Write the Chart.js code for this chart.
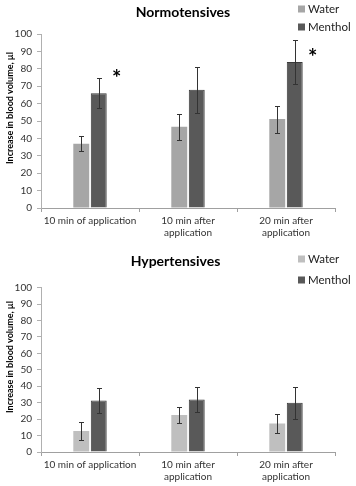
<!DOCTYPE html>
<html><head><meta charset="utf-8">
<script src="https://cdn.jsdelivr.net/npm/chart.js@4.4.0/dist/chart.umd.min.js"></script>
<style>
html,body{margin:0;padding:0;background:#fff;width:356px;height:486px;overflow:hidden;}
.w{position:absolute;left:0;width:356px;}
</style></head><body>
<div class="w" style="top:0;height:244px"><canvas id="c1" width="356" height="244"></canvas></div>
<div class="w" style="top:244px;height:242px"><canvas id="c2" width="356" height="242"></canvas></div>
<script>
const categories = ['10 min of application', ['10 min after','application'], ['20 min after','application']];
const yTicks = [0,10,20,30,40,50,60,70,80,90,100];
const normWater = [36.9, 46.7, 51.1];
const normWaterErr = [4.3, 7.4, 7.8];
const normMenthol = [66.0, 67.9, 83.9];
const normMentholErr = [8.6, 13.1, 12.6];
const normStars = [77, null, 89];
const hypWater = [12.8, 22.5, 17.4];
const hypWaterErr = [5.6, 4.6, 5.8];
const hypMenthol = [31.4, 32.0, 29.9];
const hypMentholErr = [7.8, 7.6, 9.8];
const hypStars = [null, null, null];

const FONT = 'Lato, "Open Sans", sans-serif';

function makeChart(id, title, titleX, titleY, legY, yTitleCY, water, waterErr, menthol, mentholErr, stars, waterColor, padTop) {
  const extras = {
    id: 'extras',
    afterDatasetsDraw(chart) {
      const ctx = chart.ctx;
      const ys = chart.scales.y;
      const errs = [waterErr, mentholErr];
      ctx.save();
      ctx.strokeStyle = '#333333';
      ctx.lineWidth = 1;
      chart.data.datasets.forEach((ds, di) => {
        const meta = chart.getDatasetMeta(di);
        meta.data.forEach((bar, i) => {
          const v = ds.data[i], e = errs[di][i];
          const x = Math.round(bar.x) + 0.5;
          const yt = Math.round(ys.getPixelForValue(v + e)) + 0.5;
          const yb = Math.round(ys.getPixelForValue(v - e)) + 0.5;
          ctx.beginPath();
          ctx.moveTo(x, yt); ctx.lineTo(x, yb);
          ctx.moveTo(x - 2.5, yt); ctx.lineTo(x + 2.5, yt);
          ctx.moveTo(x - 2.5, yb); ctx.lineTo(x + 2.5, yb);
          ctx.stroke();
        });
      });
      const mMeta = chart.getDatasetMeta(1);
      ctx.fillStyle = '#000';
      ctx.font = 'bold 22px ' + FONT;
      ctx.textAlign = 'center';
      ctx.textBaseline = 'alphabetic';
      stars.forEach((s, i) => {
        if (s == null) return;
        const x = mMeta.data[i].x + 18;
        const y = ys.getPixelForValue(s) + 12;
        ctx.fillText('*', x, y);
      });
      ctx.restore();
    },
    afterDraw(chart) {
      const ctx = chart.ctx;
      ctx.save();
      ctx.fillStyle = '#000';
      ctx.font = 'bold 14px ' + FONT;
      ctx.textAlign = 'center';
      ctx.textBaseline = 'middle';
      ctx.fillText(title, titleX, titleY);
      ctx.save();
      ctx.translate(10, yTitleCY);
      ctx.rotate(-Math.PI / 2);
      ctx.font = 'bold 9px ' + FONT;
      ctx.fillStyle = '#000';
      ctx.fillText('Increase in blood volume, \u00b5l', 0, 0);
      ctx.restore();
      ctx.font = '11.5px ' + FONT;
      ctx.textAlign = 'left';
      chart.data.datasets.forEach((ds, di) => {
        const cy = legY[di];
        ctx.fillStyle = ds.backgroundColor;
        ctx.fillRect(298, cy - 3.5, 7, 7);
        ctx.fillStyle = '#222';
        ctx.fillText(ds.label, 308, cy);
      });
      ctx.restore();
    }
  };
  return new Chart(document.getElementById(id), {
    type: 'bar',
    data: {
      labels: categories,
      datasets: [
        { label: 'Water', data: water, backgroundColor: waterColor, borderColor: waterColor, borderWidth: 0 },
        { label: 'Menthol', data: menthol, backgroundColor: '#595959', borderColor: '#3a3a3a', borderWidth: 1 }
      ]
    },
    options: {
      responsive: false,
      animation: false,
      devicePixelRatio: 1,
      categoryPercentage: 0.357,
      barPercentage: 0.91,
      layout: { padding: { top: padTop, right: 21, left: 0, bottom: 0 } },
      plugins: { legend: { display: false }, title: { display: false }, tooltip: { enabled: false } },
      scales: {
        x: {
          afterFit(s) { s.height = chartHeight(id) - 208; },
          grid: { display: true, drawOnChartArea: false, offset: true, tickLength: 4, color: '#a0a0a0' },
          border: { display: true, color: '#a0a0a0' },
          ticks: { color: '#333', font: { family: FONT, size: 10, lineHeight: 1.2 }, padding: 3, maxRotation: 0, autoSkip: false }
        },
        y: {
          min: 0, max: 100,
          afterFit(s) { s.width = 41; },
          afterBuildTicks(s) { s.ticks = yTicks.map(v => ({ value: v })); },
          grid: { display: true, drawOnChartArea: false, tickLength: 4, color: '#b0b0b0' },
          border: { display: true, color: '#b0b0b0' },
          ticks: { color: '#333', font: { family: FONT, size: 10 }, padding: 5 }
        }
      }
    },
    plugins: [extras]
  });
}
function chartHeight(id) { return id === 'c1' ? 244 : 242; }

makeChart('c1', 'Normotensives', 183, 12, [9, 27], 108, normWater, normWaterErr, normMenthol, normMentholErr, normStars, '#a6a6a6', 34);
makeChart('c2', 'Hypertensives', 175.5, 17.5, [15, 36], 113, hypWater, hypWaterErr, hypMenthol, hypMentholErr, hypStars, '#bfbfbf', 43.7);
</script>
</body></html>
